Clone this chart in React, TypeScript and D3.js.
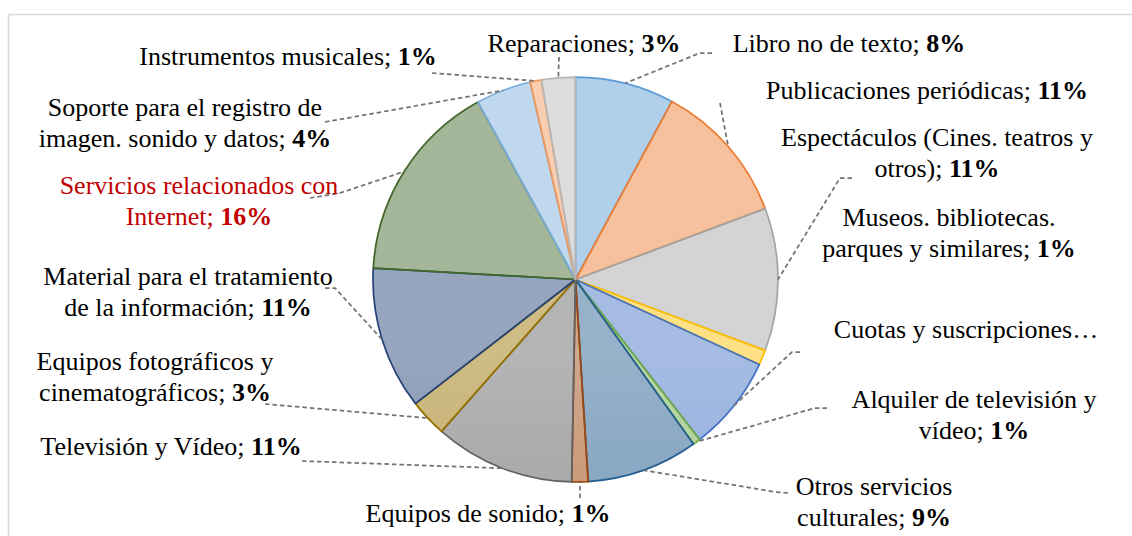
import React from 'react'
import * as d3 from 'd3'

// Data (shares in %, clockwise from 12 o'clock)
const categories = [
  'Libro no de texto',
  'Publicaciones periódicas',
  'Espectáculos (Cines. teatros y otros)',
  'Museos. bibliotecas. parques y similares',
  'Cuotas y suscripciones',
  'Alquiler de televisión y vídeo',
  'Otros servicios culturales',
  'Equipos de sonido',
  'Televisión y Vídeo',
  'Equipos fotográficos y cinematográficos',
  'Material para el tratamiento de la información',
  'Servicios relacionados con Internet',
  'Soporte para el registro de imagen. sonido y datos',
  'Instrumentos musicales',
  'Reparaciones'
]
const shares = [7.9, 11.4, 11.4, 1.2, 7.6, 0.6, 8.9, 1.3, 11.2, 3.0, 11.4, 16.1, 4.4, 0.9, 2.7]

// Label text as wrapped in the chart (percentage appended to last line)
const labelLines = [
  ['Libro no de texto;'],
  ['Publicaciones periódicas;'],
  ['Espectáculos (Cines. teatros y', 'otros);'],
  ['Museos. bibliotecas.', 'parques y similares;'],
  ['Cuotas y suscripciones…'],
  ['Alquiler de televisión y', 'vídeo;'],
  ['Otros servicios', 'culturales;'],
  ['Equipos de sonido;'],
  ['Televisión y Vídeo;'],
  ['Equipos fotográficos y', 'cinematográficos;'],
  ['Material para el tratamiento', 'de la información;'],
  ['Servicios relacionados con', 'Internet;'],
  ['Soporte para el registro de', 'imagen. sonido y datos;'],
  ['Instrumentos musicales;'],
  ['Reparaciones;']
]
const showPct = [true, true, true, true, false, true, true, true, true, true, true, true, true, true, true]

// Excel office palette (strokes); fills are gradients of the same colour
const colors = [
  '#5B9BD5', '#ED7D31', '#A5A5A5', '#FFC000', '#4472C4', '#70AD47',
  '#255E91', '#9E480E', '#636363', '#997300', '#264478', '#43682B',
  '#7CAFDD', '#F1975A', '#B7B7B7'
]

// Layout
const W = 1132
const H = 536
const cx = 575.5
const cy = 279.5
const r = 202.5
const fontSize = 26
const lineH = 30.5

// label anchor: centre x, first baseline
const labelPos: [number, number][] = [
  [849, 52], [927, 99], [937, 146], [949, 226], [966, 338],
  [974, 408], [874, 495], [488, 522], [171, 455], [155, 370],
  [188, 285], [199, 194], [185, 116], [288, 65], [584, 52]
]
const labelColor = (i: number) => (i === 11 ? '#C00000' : '#000')

// leader line points at the label end (the slice end comes from the arc)
const leaderEnds: [number, number][][] = [
  [[712, 53], [700, 53]],
  [[720, 103]],
  [[852, 178], [840, 178]],
  [],
  [[800, 352], [792, 352]],
  [[827, 408], [815, 408]],
  [[788, 493], [776, 492]],
  [[580, 498]],
  [[302, 461]],
  [[265, 404]],
  [[325, 288], [335, 288]],
  [[310, 198], [340, 193]],
  [[325, 122]],
  [[432, 73]],
  [[559, 57]]
]

export default function App() {
  const total = d3.sum(shares)
  const pie = d3.pie<number>().sort(null).value(d => d)
  const arcs = pie(shares)
  const arc = d3.arc<d3.PieArcDatum<number>>().innerRadius(0).outerRadius(r)
  const rim = d3.arc<d3.PieArcDatum<number>>().innerRadius(r).outerRadius(r)
  const line = d3.line()

  return (
    <svg
      width={W}
      height={H}
      style={{ position: 'absolute', left: 0, top: 0, display: 'block', background: '#fff' }}
      fontFamily="'Liberation Serif', 'Times New Roman', serif"
      fontSize={fontSize}
    >
      <defs>
        {colors.map((c, i) => (
          <linearGradient
            key={i}
            id={`g${i}`}
            gradientUnits="userSpaceOnUse"
            x1={0}
            y1={cy - r}
            x2={0}
            y2={cy + r}
          >
            <stop offset="0" stopColor={c} stopOpacity={0.48} />
            <stop offset="1" stopColor={c} stopOpacity={0.7} />
          </linearGradient>
        ))}
      </defs>
      <rect x={8.5} y={14.5} width={1200} height={600} fill="#fff" stroke="#d9d9d9" strokeWidth={1.5} />

      <g transform={`translate(${cx},${cy})`}>
        {arcs.map((d, i) => (
          <path
            key={categories[i]}
            d={arc(d) || ''}
            fill={`url(#g${i})`}
            stroke={colors[i]}
            strokeWidth={1.75}
            strokeLinejoin="round"
          />
        ))}
      </g>

      {arcs.map((d, i) => {
        const ends = leaderEnds[i]
        if (!ends.length) return null
        const [px, py] = rim.centroid(d)
        const pts: [number, number][] = [...ends, [cx + px, cy + py]]
        return (
          <path
            key={`l${i}`}
            d={line(pts) || ''}
            fill="none"
            stroke="#737373"
            strokeWidth={1.75}
            strokeDasharray="4.5 3"
          />
        )
      })}

      {labelLines.map((lines, i) => {
        const [x, y] = labelPos[i]
        const pct = `${Math.round((shares[i] / total) * 100)}%`
        return (
          <text key={`t${i}`} x={x} y={y} textAnchor="middle" fill={labelColor(i)}>
            {lines.map((ln, j) => (
              <tspan key={j} x={x} y={y + j * lineH}>
                {ln}
                {showPct[i] && j === lines.length - 1 ? (
                  <tspan fontWeight="bold">{' ' + pct}</tspan>
                ) : null}
              </tspan>
            ))}
          </text>
        )
      })}
    </svg>
  )
}
